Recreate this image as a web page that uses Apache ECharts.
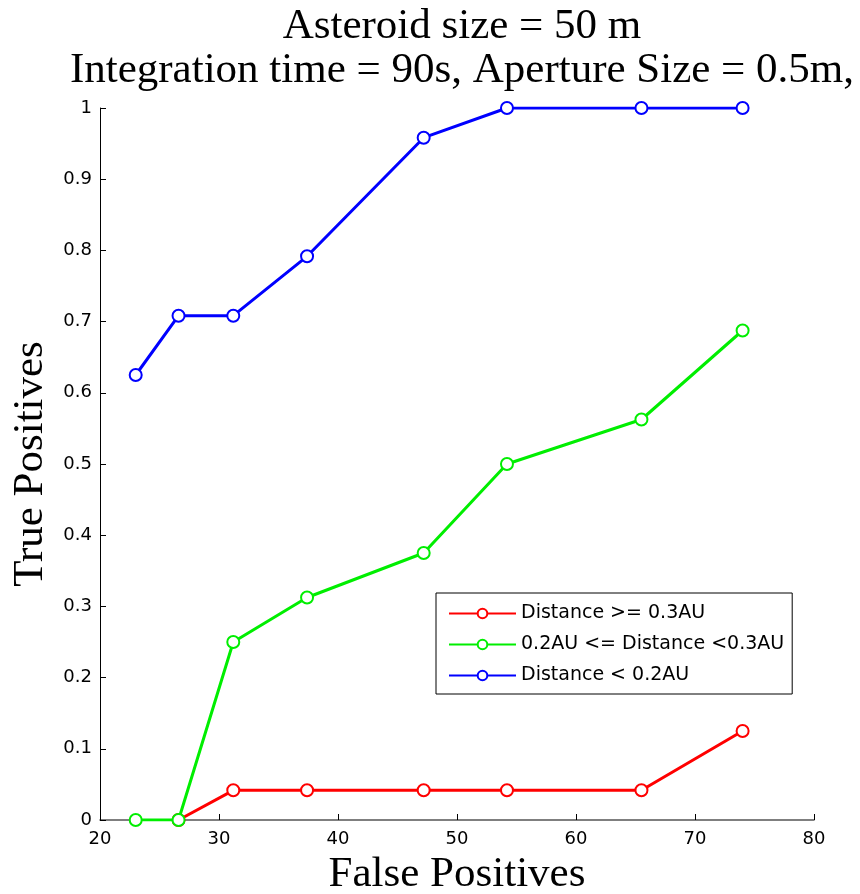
<!DOCTYPE html>
<html>
<head>
<meta charset="utf-8">
<script src="https://cdn.jsdelivr.net/npm/echarts@6/dist/echarts.min.js"></script>
<style>html,body{margin:0;padding:0;background:#fff}#c{width:860px;height:894px}</style>
</head>
<body>
<div id="c"></div>
<script>
const titleLines = ['Asteroid size = 50 m', 'Integration time = 90s, Aperture Size = 0.5m,'];
const xName = 'False Positives';
const yName = 'True Positives';
const falsePositives = [23.0, 26.6, 31.2, 37.4, 47.2, 54.2, 65.5, 74.0];
const seriesNames = ['Distance >= 0.3AU', '0.2AU <= Distance <0.3AU', 'Distance < 0.2AU'];
const redTP = [null, 0, 0.0417, 0.0417, 0.0417, 0.0417, 0.0417, 0.125];
const greenTP = [0, 0, 0.25, 0.3125, 0.375, 0.5, 0.5625, 0.6875];
const blueTP = [0.625, 0.7083, 0.7083, 0.7917, 0.9583, 1, 1, 1];
const colors = ['#ff0000', '#00ee00', '#0000ff'];

function pairs(ys) {
  const out = [];
  ys.forEach((y, i) => { if (y !== null) out.push([falsePositives[i], y]); });
  return out;
}
const allY = [redTP, greenTP, blueTP];

const chart = echarts.init(document.getElementById('c'), null, {renderer: 'canvas'});
const serif = 'Liberation Serif';
const sans = 'DejaVu Sans';
chart.setOption({
  animation: false,
  backgroundColor: '#fff',
  title: {
    text: titleLines.join('\n'),
    left: 457, textAlign: 'center', top: 0,
    textStyle: {fontFamily: serif, fontSize: 43, fontWeight: 'normal', color: '#000', lineHeight: 44}
  },
  grid: {left: 100, right: 46, top: 108, bottom: 74, containLabel: false, outerBoundsMode: 'none'},
  xAxis: {
    type: 'value', min: 20, max: 80, interval: 10,
    name: xName, nameLocation: 'middle', nameGap: 29,
    nameTextStyle: {fontFamily: serif, fontSize: 43, color: '#000'},
    axisLine: {show: true, lineStyle: {color: '#555', width: 1.5}},
    axisTick: {show: true, inside: true, length: 6, lineStyle: {color: '#000'}},
    axisLabel: {fontFamily: sans, fontSize: 18, color: '#000', margin: 10},
    splitLine: {show: false}
  },
  yAxis: {
    type: 'value', min: 0, max: 1, interval: 0.1,
    name: yName, nameLocation: 'middle', nameGap: 33,
    nameTextStyle: {fontFamily: serif, fontSize: 43, color: '#000'},
    axisLine: {show: true, lineStyle: {color: '#000', width: 1}},
    axisTick: {show: true, inside: true, length: 6, lineStyle: {color: '#000'}},
    axisLabel: {fontFamily: sans, fontSize: 18, color: '#000', margin: 8,
      formatter: v => String(Math.round(v * 10) / 10)},
    splitLine: {show: false}
  },
  legend: {
    orient: 'vertical', left: 436, top: 593,
    padding: [11, 8, 9, 12], itemGap: 12, itemWidth: 67, itemHeight: 12,
    borderColor: '#000', borderWidth: 1, backgroundColor: '#fff',
    textStyle: {fontFamily: sans, fontSize: 19, color: '#000'},
    data: seriesNames
  },
  series: seriesNames.map((n, i) => ({
    name: n, type: 'line', data: pairs(allY[i]),
    symbol: 'emptyCircle', symbolSize: 12, showAllSymbol: true,
    color: colors[i],
    lineStyle: {color: colors[i], width: 3},
    itemStyle: {color: colors[i], borderColor: colors[i], borderWidth: 2.5},
    z: 2 + i
  }))
});
</script>
</body>
</html>
